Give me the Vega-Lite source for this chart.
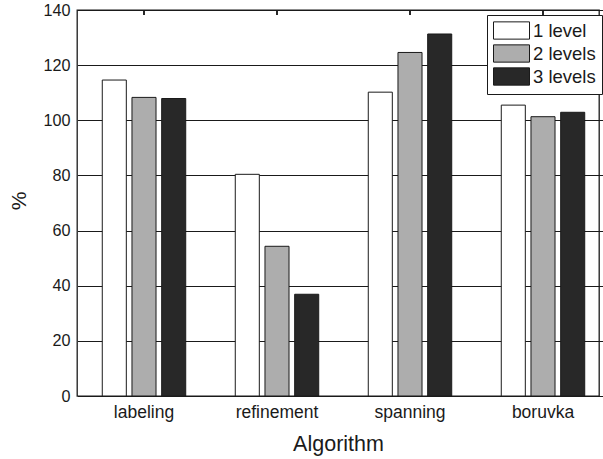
{
  "$schema": "https://vega.github.io/schema/vega-lite/v6.json",
  "width": 522,
  "height": 386,
  "autosize": {"type": "none"},
  "padding": {"left": 77, "top": 10, "right": 4, "bottom": 63},
  "background": "white",
  "config": {
    "font": "Liberation Sans",
    "view": {"stroke": "#1a1a1a", "strokeWidth": 1.3},
    "axis": {"labelFont": "Liberation Sans", "titleFont": "Liberation Sans", "labelColor": "#1a1a1a", "titleColor": "#1a1a1a", "titleFontWeight": "normal"}
  },
  "data": {
    "values": [
      {"algorithm": "labeling", "level": "1 level", "value": 114.6},
      {"algorithm": "labeling", "level": "2 levels", "value": 108.3},
      {"algorithm": "labeling", "level": "3 levels", "value": 107.9},
      {"algorithm": "refinement", "level": "1 level", "value": 80.4},
      {"algorithm": "refinement", "level": "2 levels", "value": 54.3},
      {"algorithm": "refinement", "level": "3 levels", "value": 36.9},
      {"algorithm": "spanning", "level": "1 level", "value": 110.2},
      {"algorithm": "spanning", "level": "2 levels", "value": 124.6},
      {"algorithm": "spanning", "level": "3 levels", "value": 131.3},
      {"algorithm": "boruvka", "level": "1 level", "value": 105.5},
      {"algorithm": "boruvka", "level": "2 levels", "value": 101.3},
      {"algorithm": "boruvka", "level": "3 levels", "value": 102.9}
    ]
  },
  "layer": [
    {
      "mark": {"type": "bar", "stroke": "#1a1a1a", "strokeWidth": 1},
      "encoding": {
        "x": {
          "field": "algorithm", "type": "nominal",
          "sort": ["labeling", "refinement", "spanning", "boruvka"],
          "scale": {"range": [0.5, 532.5], "paddingInner": 0, "paddingOuter": 0},
          "axis": {"title": "Algorithm", "titleFontSize": 21.5, "titleBaseline": "alphabetic", "titleY": 54.7, "titleX": 261, "labelFontSize": 17.5, "labelAngle": 0, "labelPadding": 7, "ticks": false, "domain": false}
        },
        "xOffset": {
          "field": "level", "type": "nominal",
          "scale": {"paddingInner": 0.19, "paddingOuter": 0.834}
        },
        "y": {
          "field": "value", "type": "quantitative",
          "scale": {"domain": [0, 140], "nice": false},
          "axis": {"title": "%", "titleFontSize": 21, "titleX": -52, "titleY": 190.5, "titleAngle": -90, "titleBaseline": "alphabetic", "titleAlign": "center", "labelFontSize": 16.2, "labelPadding": 7, "values": [0, 20, 40, 60, 80, 100, 120, 140], "ticks": false, "domain": false, "grid": true, "gridColor": "#1a1a1a", "gridWidth": 1.2, "gridOpacity": 1}
        },
        "fill": {
          "field": "level", "type": "nominal",
          "scale": {"domain": ["1 level", "2 levels", "3 levels"], "range": ["#ffffff", "#adadad", "#282828"]},
          "legend": {
            "title": null, "orient": "none", "legendX": 410, "legendY": 5,
            "symbolType": "M-1,-0.96H3V0.96H-1Z", "symbolSize": 324,
            "symbolStrokeColor": "#1a1a1a", "symbolStrokeWidth": 1, "symbolOpacity": 1,
            "labelFontSize": 18.5, "labelColor": "#1a1a1a", "labelOffset": 21,
            "rowPadding": 0, "padding": 6, "strokeColor": "#1a1a1a", "fillColor": "white"
          }
        }
      }
    },
    {
      "mark": {"type": "rule", "color": "#1a1a1a", "strokeWidth": 1.2},
      "encoding": {
        "x": {"field": "algorithm", "type": "nominal", "sort": ["labeling", "refinement", "spanning", "boruvka"]},
        "y": {"datum": 140},
        "y2": {"datum": 138.2}
      }
    }
  ]
}
